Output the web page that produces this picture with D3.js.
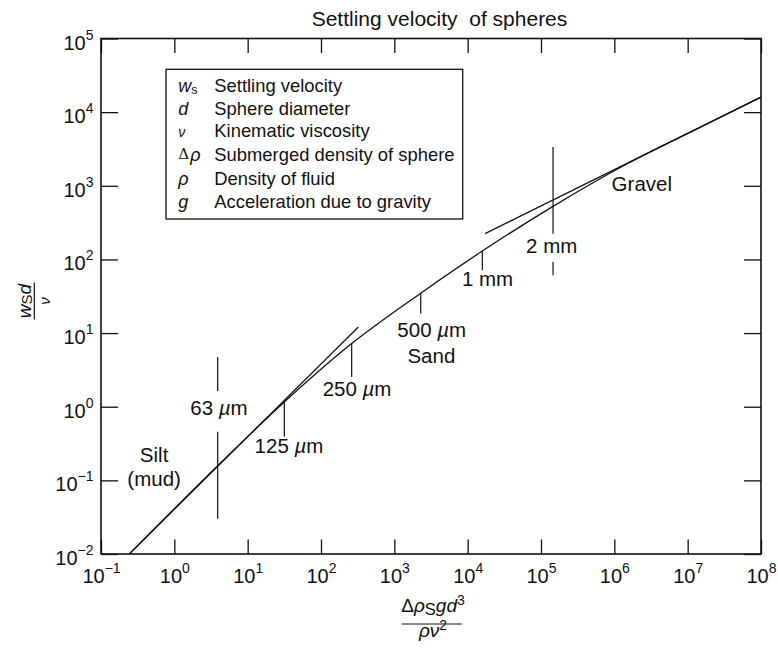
<!DOCTYPE html>
<html>
<head>
<meta charset="utf-8">
<script src="https://cdn.jsdelivr.net/npm/d3@7"></script>
<style>
  body { margin: 0; background: #fff; }
  text { font-family: "Liberation Sans", Arial, Helvetica, sans-serif; fill: #111; }
</style>
</head>
<body>
<script>
var width = 778, height = 648;
var plot = { left: 101, right: 761, top: 38.5, bottom: 554 };

// settling curve (R = Δρ g d³ / ρν², W = ws d / ν)
const curveR = [0.243, 3.9, 31.6, 262, 2290, 15850, 146000, 1540000, 14700000, 1e8];
const curveW = [0.01, 0.158, 1.16, 7.2, 34.8, 130, 526, 2020, 6210, 16000];

// straight asymptotes (Stokes and upper drag line)
const stokesR = [0.243, 323];
const stokesW = [0.01, 12.1];
const upperR = [17260, 1e8];
const upperW = [224, 16000];

// grain-size markers
const grainNames = ["63 µm", "125 µm", "250 µm", "500 µm", "1 mm", "2 mm"];
const grainR = [3.9, 31.6, 262, 2290, 15850, 146000];
const grainSegments = [
  [[0.03, 0.456], [1.63, 4.75]],
  [[0.39, 1.16]],
  [[2.54, 7.2]],
  [[18.5, 34.8]],
  [[71.3, 130]],
  [[224, 3360], [61, 92.5]]
];
const grainLabelR = [4.06, 36.6, 310, 3240, 18660, 140000];
const grainLabelW = [0.77, 0.234, 1.39, 8.79, 43.3, 121];

// region names
const regionNames = ["Silt", "(mud)", "Sand", "Gravel"];
const regionR = [0.53, 0.53, 3200, 2370000];
const regionW = [0.179, 0.0838, 3.9, 841];

// axes
const xDecades = [-1, 0, 1, 2, 3, 4, 5, 6, 7, 8];
const yDecades = [-2, -1, 0, 1, 2, 3, 4, 5];

// legend
const legendTerms = ["Settling velocity", "Sphere diameter", "Kinematic viscosity",
  "Submerged density of sphere", "Density of fluid", "Acceleration due to gravity"];
const legendBaselines = [91.5, 114.5, 136.5, 161, 184.5, 208];

const x = d3.scaleLog().domain([1e-1, 1e8]).range([plot.left, plot.right]);
const y = d3.scaleLog().domain([1e-2, 1e5]).range([plot.bottom, plot.top]);

const svg = d3.select("body")
    .append("svg")
    .attr("width", width)
    .attr("height", height);

function expText(e) {
    return e < 0 ? "\u2212" + (-e) : "" + e;
}

function powerLabels(g) {
    g.selectAll(".tick text").each(function (d) {
        const e = Math.round(Math.log10(d));
        const t = d3.select(this).text("");
        t.append("tspan").text("10");
        t.append("tspan").attr("dy", -10).attr("font-size", 14).text(expText(e));
    });
}

const xVals = xDecades.map(e => Math.pow(10, e));
const yVals = yDecades.map(e => Math.pow(10, e));

// bottom axis
svg.append("g")
    .attr("transform", `translate(0, ${plot.bottom})`)
    .call(d3.axisBottom(x).tickValues(xVals).tickSizeInner(-14.5).tickSizeOuter(0))
    .call(g => g.select(".domain").remove())
    .call(g => g.selectAll(".tick text").attr("y", 28.7).attr("dy", 0).attr("font-size", 20))
    .call(powerLabels);

// top axis
svg.append("g")
    .attr("transform", `translate(0, ${plot.top})`)
    .call(d3.axisTop(x).tickValues(xVals).tickSizeInner(-14.5).tickSizeOuter(0).tickFormat(""))
    .call(g => g.select(".domain").remove());

// left axis
svg.append("g")
    .attr("transform", `translate(${plot.left}, 0)`)
    .call(d3.axisLeft(y).tickValues(yVals).tickSizeInner(-17).tickSizeOuter(0))
    .call(g => g.select(".domain").remove())
    .call(g => g.selectAll(".tick text").attr("x", -7.5).attr("y", 10.5).attr("dy", 0).attr("font-size", 20))
    .call(powerLabels);

// right axis
svg.append("g")
    .attr("transform", `translate(${plot.right}, 0)`)
    .call(d3.axisRight(y).tickValues(yVals).tickSizeInner(-17).tickSizeOuter(0).tickFormat(""))
    .call(g => g.select(".domain").remove());

svg.selectAll(".tick line").attr("stroke", "#111").attr("stroke-width", 1.3);
svg.selectAll(".tick text").attr("fill", "#111").attr("font-family", null);

// frame
svg.append("rect")
    .attr("x", plot.left)
    .attr("y", plot.top)
    .attr("width", plot.right - plot.left)
    .attr("height", plot.bottom - plot.top)
    .attr("fill", "none")
    .attr("stroke", "#111")
    .attr("stroke-width", 1.6);

const line = d3.line()
    .x(d => x(d[0]))
    .y(d => y(d[1]));

svg.append("path")
    .datum(d3.zip(stokesR, stokesW))
    .attr("d", line)
    .attr("fill", "none")
    .attr("stroke", "#111")
    .attr("stroke-width", 1.2);

svg.append("path")
    .datum(d3.zip(upperR, upperW))
    .attr("d", line)
    .attr("fill", "none")
    .attr("stroke", "#111")
    .attr("stroke-width", 1.2);

svg.append("path")
    .datum(d3.zip(curveR, curveW))
    .attr("d", line.curve(d3.curveMonotoneX))
    .attr("fill", "none")
    .attr("stroke", "#111")
    .attr("stroke-width", 1.3);

// grain-size marks
grainSegments.forEach((segs, i) => {
    svg.append("g")
        .selectAll("line")
        .data(segs)
        .join("line")
        .attr("x1", x(grainR[i]))
        .attr("x2", x(grainR[i]))
        .attr("y1", d => y(d[0]))
        .attr("y2", d => y(d[1]))
        .attr("stroke", "#111")
        .attr("stroke-width", 1.2);
});

function addLabel(str, px, py) {
    const t = svg.append("text")
        .attr("x", px)
        .attr("y", py)
        .attr("text-anchor", "middle")
        .attr("font-size", 20.5);
    const parts = str.split("µ");
    t.append("tspan").text(parts[0]);
    if (parts.length > 1) {
        t.append("tspan").attr("font-style", "italic").text("µ");
        t.append("tspan").text(parts[1]);
    }
}

grainNames.forEach((s, i) => addLabel(s, x(grainLabelR[i]), y(grainLabelW[i])));
regionNames.forEach((s, i) => addLabel(s, x(regionR[i]), y(regionW[i])));

// title
svg.append("text")
    .attr("x", 439.5)
    .attr("y", 26)
    .attr("text-anchor", "middle")
    .attr("font-size", 21)
    .style("white-space", "pre")
    .text("Settling velocity  of spheres");

// legend box
svg.append("rect")
    .attr("x", 166)
    .attr("y", 69.3)
    .attr("width", 296.7)
    .attr("height", 149.7)
    .attr("fill", "#fff")
    .attr("stroke", "#111")
    .attr("stroke-width", 1.3);

svg.append("g")
    .selectAll("text")
    .data(legendTerms)
    .join("text")
    .attr("x", 214.3)
    .attr("y", (d, i) => legendBaselines[i])
    .attr("font-size", 18.4)
    .text(d => d);

const sym = svg.append("g").attr("font-size", 18);
function symRow(i) {
    return sym.append("text").attr("x", 178.3).attr("y", legendBaselines[i]);
}
let s0 = symRow(0);
s0.append("tspan").attr("font-style", "italic").text("w");
s0.append("tspan").attr("font-size", 12.5).attr("dy", 2).text("s");
symRow(1).attr("font-style", "italic").text("d");
symRow(2).attr("font-family", "'DejaVu Serif', serif").attr("font-style", "italic").attr("font-size", 14).text("ν");
let s3 = symRow(3);
s3.append("tspan").attr("font-family", "'DejaVu Serif', serif").attr("font-size", 15).attr("dy", -2).text("Δ");
s3.append("tspan").attr("font-style", "italic").attr("dy", 2).attr("dx", 1).text("ρ");
symRow(4).attr("font-style", "italic").text("ρ");
symRow(5).attr("font-style", "italic").text("g");

// x-axis title: Δρs g d³ / ρν²
const xt = svg.append("g").attr("font-size", 19);
let num = xt.append("text").attr("x", 433).attr("y", 612).attr("text-anchor", "middle");
num.append("tspan").text("Δ");
num.append("tspan").attr("font-style", "italic").text("ρ");
num.append("tspan").attr("dy", 3).attr("font-size", 16.5).text("S");
num.append("tspan").attr("dy", -3).attr("font-style", "italic").text("gd");
num.append("tspan").attr("dy", -7).attr("font-size", 14).text("3");
xt.append("line")
    .attr("x1", 401.7).attr("x2", 461.7)
    .attr("y1", 624).attr("y2", 624)
    .attr("stroke", "#111").attr("stroke-width", 1.2);
let den = xt.append("text").attr("x", 433).attr("y", 637).attr("text-anchor", "middle");
den.append("tspan").attr("font-style", "italic").text("ρν");
den.append("tspan").attr("dy", -7).attr("font-size", 14).text("2");

// y-axis title: ws d / ν, rotated
const yt = svg.append("g")
    .attr("transform", "translate(34.3, 301) rotate(-90)")
    .attr("font-size", 19);
let ynum = yt.append("text").attr("x", 0).attr("y", -3).attr("text-anchor", "middle");
ynum.append("tspan").attr("font-style", "italic").text("w");
ynum.append("tspan").attr("font-size", 15).attr("dy", 1).text("S");
ynum.append("tspan").attr("font-style", "italic").attr("dy", -1).text("d");
yt.append("line")
    .attr("x1", -18.5).attr("x2", 18.5)
    .attr("y1", 0).attr("y2", 0)
    .attr("stroke", "#111").attr("stroke-width", 1.2);
yt.append("text")
    .attr("x", 0).attr("y", 15.5)
    .attr("text-anchor", "middle")
    .attr("font-family", "'DejaVu Serif', serif")
    .attr("font-style", "italic")
    .attr("font-size", 15)
    .text("ν");
</script>
</body>
</html>
